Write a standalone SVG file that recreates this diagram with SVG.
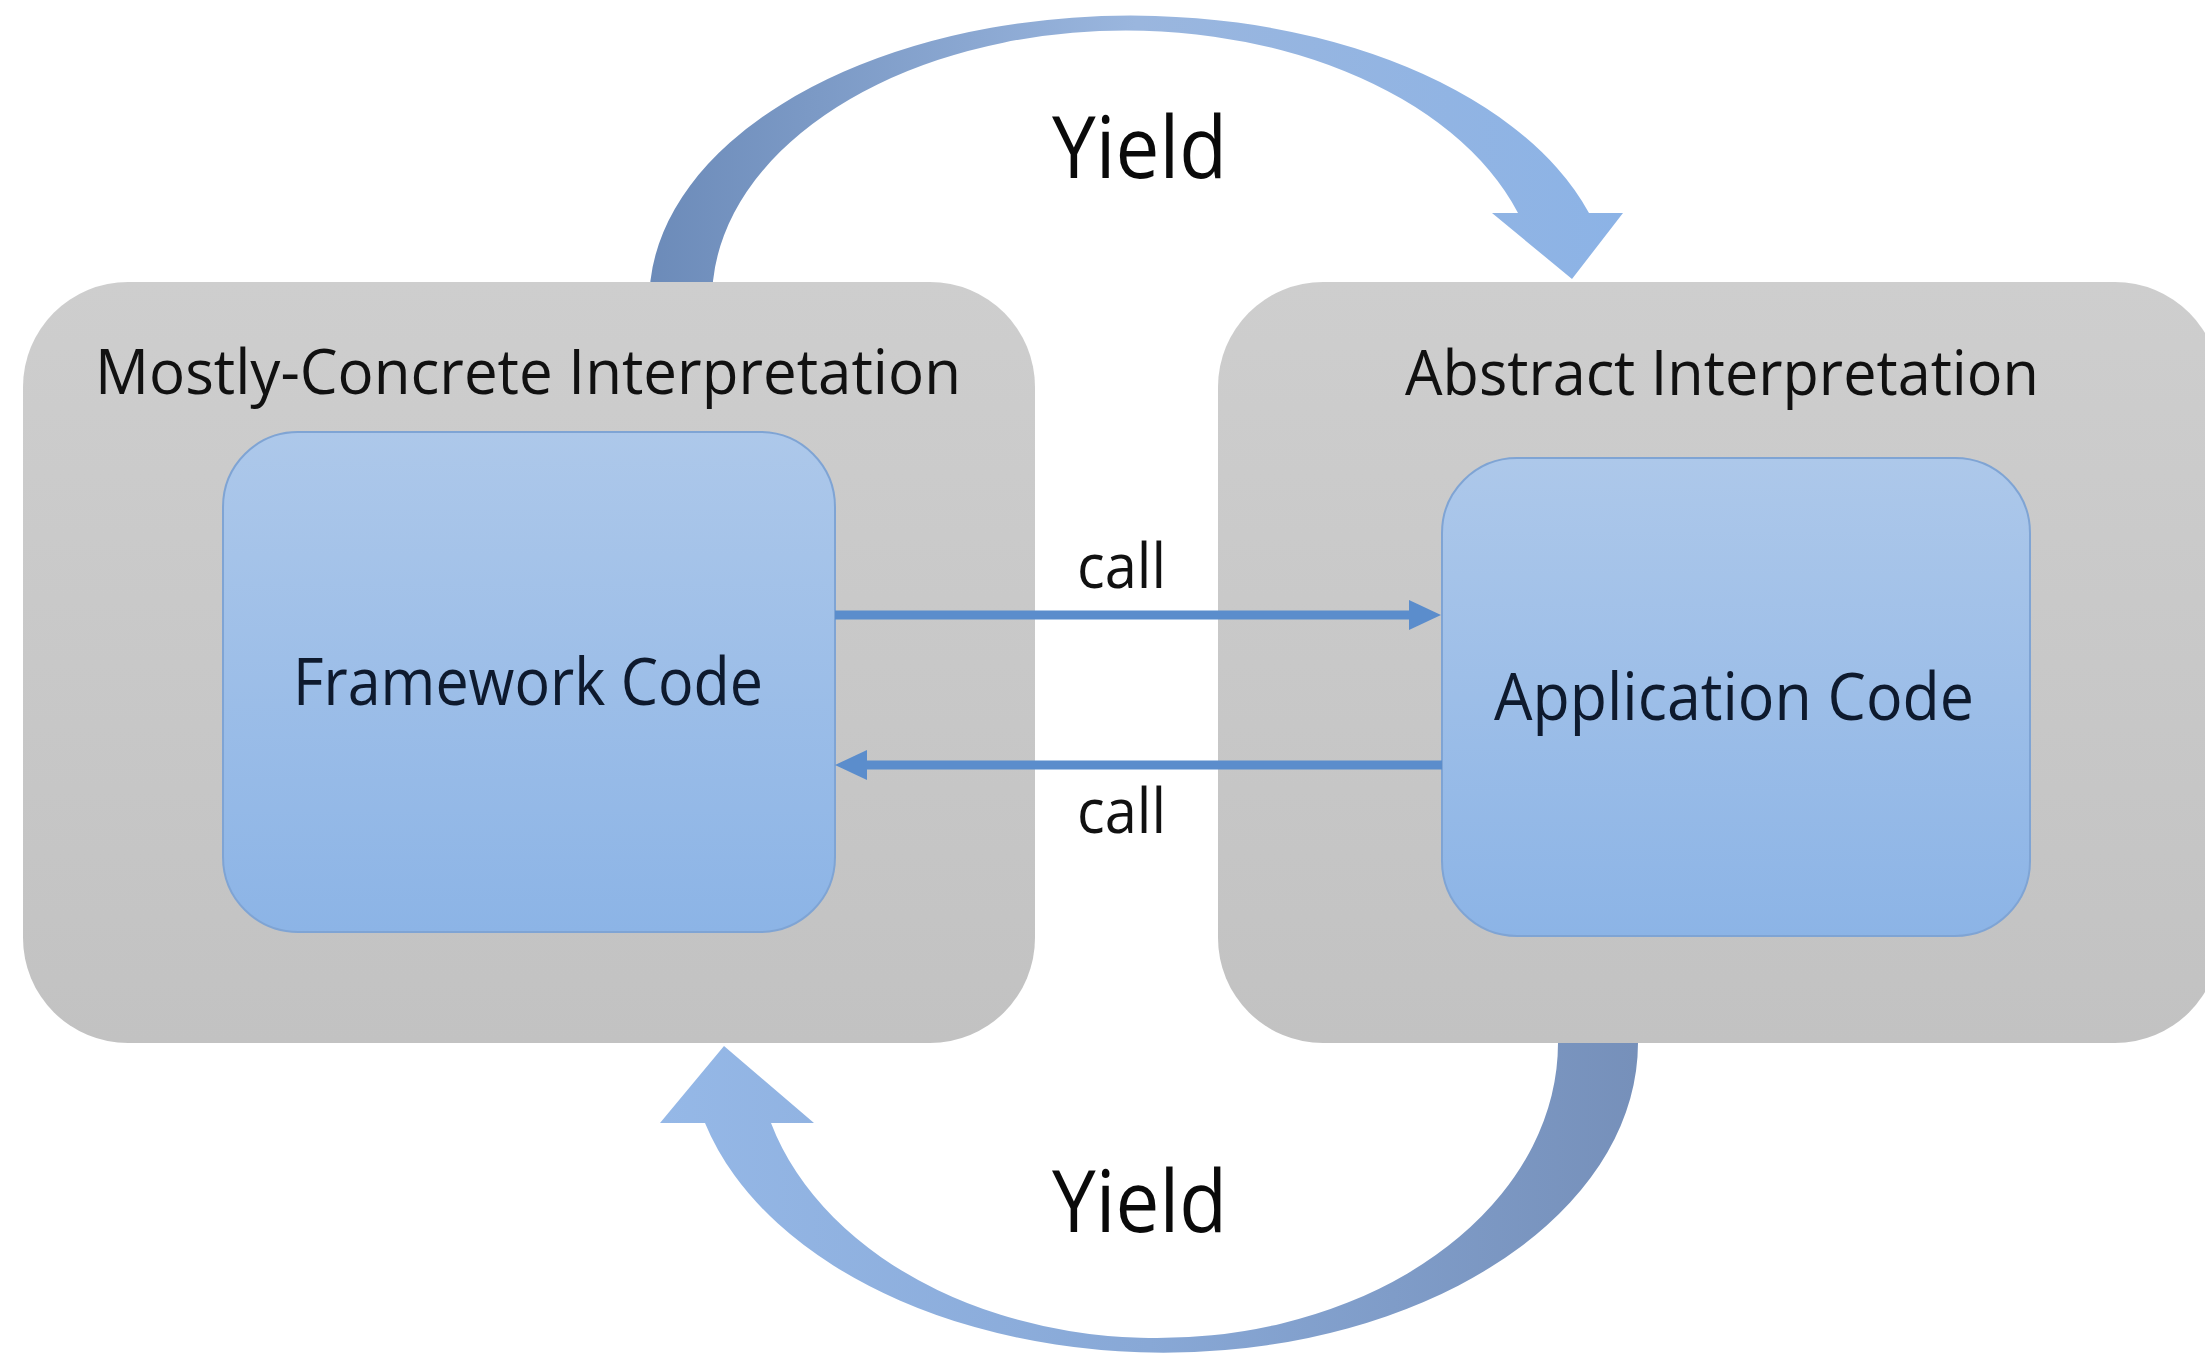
<svg xmlns="http://www.w3.org/2000/svg" width="2205" height="1356" viewBox="0 0 2205 1356">
  <style>
    .title { font-family: "Open Sans", "Noto Sans", "Liberation Sans", sans-serif; font-size: 62px; fill: #111111; }
    .inner { font-family: "Open Sans", "Noto Sans", "Liberation Sans", sans-serif; font-size: 66px; fill: #0e1a2e; }
    .lbl { font-family: "Open Sans", "Noto Sans", "Liberation Sans", sans-serif; font-size: 62px; fill: #111111; }
    .yield { font-family: "Open Sans", "Noto Sans", "Liberation Sans", sans-serif; font-size: 86px; fill: #0a0a0a; }
    .outer { fill: url(#grayGrad); }
    .blue { fill: url(#blueGrad); stroke: #7fa4d4; stroke-width: 2; }
    .call { stroke: #5b8dcc; stroke-width: 9; fill: none; }
  </style>
  <defs>
    <linearGradient id="grayGrad" x1="0" y1="0" x2="0" y2="1">
      <stop offset="0" stop-color="#cecece"/>
      <stop offset="1" stop-color="#c2c2c2"/>
    </linearGradient>
    <linearGradient id="blueGrad" x1="0" y1="0" x2="0" y2="1">
      <stop offset="0" stop-color="#adc8ea"/>
      <stop offset="1" stop-color="#8cb4e6"/>
    </linearGradient>
    <linearGradient id="topArrowGrad" gradientUnits="userSpaceOnUse" x1="650" y1="0" x2="1623" y2="0">
      <stop offset="0" stop-color="#6c8bb9"/>
      <stop offset="0.5" stop-color="#9ab6de"/>
      <stop offset="1" stop-color="#8cb3e6"/>
    </linearGradient>
    <linearGradient id="botArrowGrad" gradientUnits="userSpaceOnUse" x1="1638" y1="0" x2="660" y2="0">
      <stop offset="0" stop-color="#7690ba"/>
      <stop offset="0.5" stop-color="#88a8d6"/>
      <stop offset="1" stop-color="#95b8e7"/>
    </linearGradient>
    <marker id="head" markerUnits="userSpaceOnUse" markerWidth="32" markerHeight="30" refX="12" refY="15" orient="auto">
      <path d="M0,0 L32,15 L0,30 Z" fill="#5b8dcc"/>
    </marker>
  </defs>

  <rect x="0" y="0" width="2205" height="1356" fill="#ffffff"/>

  <g id="connectors">
    <g id="yield-top">
      <path d="M 650 300 L 650.4 281 A 481.5 285 0 0 1 1589 213 L 1623 213 L 1572 279 L 1492 213 L 1518 213 A 414 269 0 0 0 713 281 L 713 300 Z" fill="url(#topArrowGrad)"/>
    </g>
    <g id="yield-bottom">
      <path d="M 1638 1030 L 1638 1043 A 474.6 310 0 0 1 705 1123 L 660 1123 L 724 1046 L 814 1123 L 771 1123 A 401 295 0 0 0 1558 1043 L 1558 1030 Z" fill="url(#botArrowGrad)"/>
    </g>
  </g>

  <g id="node-concrete">
    <rect class="outer" x="23" y="282" width="1012" height="761" rx="105" ry="105"/>
    <text class="title" x="95" y="394" textLength="866" lengthAdjust="spacingAndGlyphs">Mostly-Concrete Interpretation</text>
  </g>
  <g id="node-abstract">
    <rect class="outer" x="1218" y="282" width="1002" height="761" rx="105" ry="105"/>
    <text class="title" x="1405" y="395" textLength="634" lengthAdjust="spacingAndGlyphs">Abstract Interpretation</text>
  </g>
  <g id="node-framework">
    <rect class="blue" x="223" y="432" width="612" height="500" rx="75" ry="75"/>
    <text class="inner" x="293" y="705" textLength="470" lengthAdjust="spacingAndGlyphs">Framework Code</text>
  </g>
  <g id="node-application">
    <rect class="blue" x="1442" y="458" width="588" height="478" rx="75" ry="75"/>
    <text class="inner" x="1494" y="720" textLength="480" lengthAdjust="spacingAndGlyphs">Application Code</text>
  </g>

  <g id="call-connectors">
    <line class="call" x1="835" y1="615" x2="1421" y2="615" marker-end="url(#head)"/>
    <line class="call" x1="1442" y1="765" x2="855" y2="765" marker-end="url(#head)"/>
  </g>

  <g id="labels">
    <text class="yield" x="1052" y="178" textLength="175" lengthAdjust="spacingAndGlyphs">Yield</text>
    <text class="yield" x="1052" y="1232" textLength="175" lengthAdjust="spacingAndGlyphs">Yield</text>
    <text class="lbl" x="1077" y="588" textLength="89" lengthAdjust="spacingAndGlyphs">call</text>
    <text class="lbl" x="1077" y="833" textLength="89" lengthAdjust="spacingAndGlyphs">call</text>
  </g>
</svg>
